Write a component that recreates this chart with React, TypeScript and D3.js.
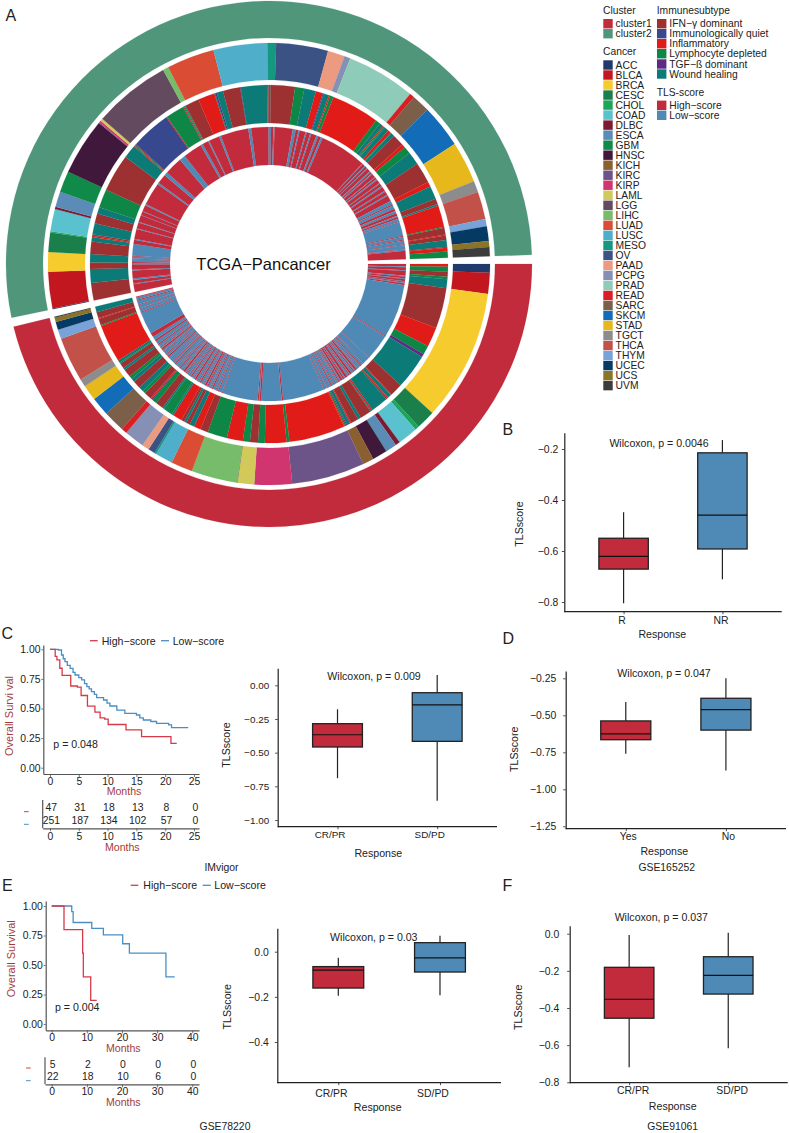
import React from 'react';
import * as d3 from 'd3';

const FONT = '"Liberation Sans", Arial, sans-serif';
const RED = '#c22b3b';
const BLUE = '#4f8ab7';
const INK = '#222';
const BROWN = '#a33c3c';

// ---- ring data ----
const clusterNames = ['cluster1', 'cluster2'];
const clusterColors = [RED, '#4f967b'];

const cancerNames = ['ACC', 'BLCA', 'BRCA', 'CESC', 'CHOL', 'COAD', 'DLBC', 'ESCA', 'GBM', 'HNSC', 'KICH', 'KIRC', 'KIRP', 'LAML', 'LGG', 'LIHC', 'LUAD', 'LUSC', 'MESO', 'OV', 'PAAD', 'PCPG', 'PRAD', 'READ', 'SARC', 'SKCM', 'STAD', 'TGCT', 'THCA', 'THYM', 'UCEC', 'UCS', 'UVM'];
const cancerColors = ['#1f3a6b', '#c2171f', '#f5cb2d', '#1b7f4b', '#1fa559', '#5ac1cf', '#7c1a30', '#5b8cb8', '#0f8a48', '#40183c', '#8b6030', '#6c5388', '#d03570', '#d1c95a', '#634a5f', '#77bc6a', '#db4c35', '#4fafca', '#169880', '#3b5285', '#ec9a80', '#8690b5', '#8ecbb8', '#d71f25', '#7c5f49', '#136cb8', '#e6b81c', '#8c8c8c', '#c2514a', '#78a3d8', '#043a63', '#8a7427', '#3c3c3c'];
// share of each cancer inside a cluster, same order as cancerNames
const cancerCluster1 = [2.3, 5.5, 34.6, 5, 1.1, 5.3, 1.2, 2.9, 0.1, 3.9, 2.9, 19.2, 9.9, 4.4, 0.1, 12.1, 5.7, 4.6, 0.5, 1.8, 1.9, 5.3, 0, 1.5, 5.7, 4.9, 4.1, 2.1, 11.7, 2.5, 2.1, 1.1, 0.3];
const cancerCluster2 = [0.2, 9.6, 5.2, 5.1, 0.3, 5.9, 0.6, 4.1, 5.6, 15.1, 0, 0.2, 0.5, 0.7, 20.4, 1.5, 12.6, 14.2, 2.3, 13.7, 4.5, 1.6, 18.2, 1.3, 4.8, 11.4, 10.9, 3, 7.3, 1.9, 3.9, 1.6, 2.4];

const immuneNames = ['IFN−γ dominant', 'Immunologically quiet', 'Inflammatory', 'Lymphocyte depleted', 'TGF−ß dominant', 'Wound healing'];
const immuneColors = ['#9d3030', '#37488e', '#e11b17', '#0e8645', '#5f2a82', '#0c7b78'];
const [IFN, IMQ, INF, LD, TGF, WH] = [0, 1, 2, 3, 4, 5];
const immuneCluster1Kinds = [INF, LD, IFN, LD, WH, IFN, INF, LD, TGF, WH, IFN, INF, WH, INF, IFN, WH, INF, WH, IFN, WH, IFN, INF, WH, TGF, LD, INF, INF, LD, INF, LD, IFN, LD, INF, LD, IFN, INF, WH, IFN, WH, IFN, INF, WH, LD, WH, IFN, LD, TGF, INF, IFN, LD, WH, IFN, WH, LD, IFN, WH, IFN, LD, WH, INF, LD, IFN, INF, IFN, WH];
const immuneCluster1Sizes = [0.9, 1.6, 1.6, 0.8, 2.9, 13.2, 6.4, 2.9, 1, 11.4, 4.1, 0.3, 1.2, 0.3, 0.5, 5.6, 0.5, 0.3, 3.7, 1, 2.5, 0.4, 1, 0.3, 0.5, 0.3, 18.3, 0.9, 7, 2.2, 2.6, 2.3, 5.2, 6.4, 2.5, 2.2, 1.6, 1.2, 0.8, 1, 3, 0.6, 3, 0.6, 2.5, 1.7, 0.3, 0.4, 2.4, 1, 1.6, 2.5, 1.2, 1, 2.6, 0.8, 1.6, 0.4, 0.9, 12.3, 0.4, 2, 0.3, 2, 1.8];
const immuneCluster2Kinds = [IFN, WH, IFN, INF, WH, IFN, WH, INF, IFN, WH, IFN, WH, LD, IFN, WH, INF, LD, IFN, IMQ, INF, LD, INF, WH, LD, IFN, INF, LD, TGF, WH, IFN, TGF, WH, INF, WH, IFN, LD, WH, INF, TGF, WH, INF, LD, INF, LD, WH, INF, LD, WH, INF, LD, WH, IFN, INF, LD, WH, IFN, INF, WH, IFN, WH, INF, LD, IFN, INF, IFN, WH, IFN, INF, LD];
const immuneCluster2Sizes = [5.7, 4.5, 1.6, 0.5, 2.7, 4, 1.5, 0.4, 0.5, 3.6, 3.2, 2.1, 6, 12.2, 4.4, 0.3, 0.3, 0.3, 13, 0.3, 6, 0.3, 0.3, 0.3, 4.6, 5.4, 0.3, 0.5, 2.1, 5.6, 0.2, 8.5, 0.5, 0.6, 7.9, 3, 3.8, 2.3, 0.3, 1.8, 0.4, 1.1, 15.6, 1.6, 1.2, 0.4, 0.4, 1.5, 1, 0.3, 1.2, 3.8, 1.2, 2.4, 4.2, 6.8, 1.6, 4.3, 1.8, 0.6, 7, 0.3, 2.2, 0.3, 1.5, 2.2, 0.3, 1.2, 2];

const tlsNames = ['High−score', 'Low−score'];
const tlsColors = [RED, BLUE];
// alternating runs: high, low, high, low ...
const tlsCluster1Runs = [1, 0.4, 1.2, 0.3, 2, 0.4, 0.8, 0.3, 0.8, 0.2, 0.4, 0.4, 0.7, 22.6, 0.4, 11, 0.2, 3, 0.3, 1.2, 0.5, 1, 0.3, 0.7, 0.8, 0.5, 0.5, 0.9, 0.8, 0.3, 0.4, 0.8, 1, 0.4, 0.6, 0.3, 0.9, 0.6, 0.5, 0.5, 0.3, 1.2, 0.4, 0.7, 0.5, 1.5, 0.3, 1.2, 0.3, 17.6, 0.6, 8.6, 0.7, 0.3, 0.5, 15, 0.3, 1.4, 0.4, 0.8, 0.3, 1.1, 0.6, 0.5, 0.3, 0.9, 0.5, 0.3, 0.8, 0.6, 0.3, 0.9, 0.6, 0.4, 0.4, 1, 0.7, 0.4, 0.3, 0.8, 0.5, 0.6, 0.4, 1.1, 0.4, 0.5, 0.8, 0.4, 0.3, 0.9, 0.5, 0.7, 0.3, 1.2, 0.5, 0.6, 0.4, 1.3, 0.3, 1, 0.6, 0.8, 0.4, 1.2, 0.3, 0.7, 0.7, 0.5, 0.3, 1.1, 0.5, 1.4, 0.8, 1.4, 1.8, 9.5, 0.4, 1.2, 0.3, 1.4, 0.3, 1.6, 0.5, 0.9, 0.4];
const tlsCluster2Runs = [3.3, 0.3, 1.4, 0.7, 3.3, 0.4, 2.2, 0.4, 0.5, 1.2, 0.3, 0.8, 0.3, 5, 1.7, 0.4, 4.2, 0.3, 2.5, 0.3, 2.8, 0.2, 1.5, 0.2, 2.6, 0.6, 9.6, 0.7, 4, 1.5, 7.5, 2.6, 7.9, 1, 2.5, 0.5, 4.5, 0.8, 11.7, 1.2, 7.3, 1, 1, 0.5, 7.6, 1.2, 1.2, 0.5, 2.5, 0.5, 1.5, 0.5, 2.2, 0.8, 1.2, 0.8, 19.6, 0.3, 1.1, 0.4, 0.9, 0.3, 1.5, 0.5, 0.7, 0.4, 1.5, 0.3, 0.8, 0.5, 1.6, 0.3, 1.2, 0.6, 1.8, 0.4, 1.5, 0.5, 2.5, 1.5, 0.5, 1.5, 1, 1, 1.2, 0.5, 0.8, 1, 0.3, 6, 0.4, 1.2, 0.4, 1.6, 0.3, 1.5, 0.3, 0.6, 3.5];

// ---- box plots: [low, q1, median, q3, high] ----
const boxB = [[-0.805, -0.671, -0.621, -0.55, -0.448], [-0.711, -0.592, -0.459, -0.215, -0.165]];
const boxC = [[-0.69, -0.458, -0.367, -0.285, -0.178], [-0.857, -0.416, -0.146, -0.055, 0.076]];
const boxD = [[-0.76, -0.665, -0.626, -0.538, -0.41], [-0.873, -0.6, -0.462, -0.385, -0.25]];
const boxE = [[-0.195, -0.161, -0.082, -0.066, -0.027], [-0.193, -0.09, -0.027, 0.04, 0.071]];
const boxF = [[-0.719, -0.455, -0.353, -0.181, -0.007], [-0.617, -0.325, -0.224, -0.124, 0.005]];

// ---- survival curves: [months, survival] ----
const kmCHigh = [[0, 1], [0.9, 0.94], [1.2, 0.91], [1.7, 0.84], [2.1, 0.78], [3.6, 0.69], [4.75, 0.68], [5.4, 0.61], [6.5, 0.52], [7.8, 0.47], [8.7, 0.42], [9.5, 0.41], [10.1, 0.365], [13.2, 0.32], [15.9, 0.262], [21, 0.206], [22, 0.206]];
const kmCLow = [[0, 1], [1.45, 0.994], [2, 0.952], [2.3, 0.92], [2.6, 0.896], [3, 0.865], [3.5, 0.839], [4, 0.805], [4.35, 0.783], [5, 0.76], [5.5, 0.741], [6, 0.71], [6.4, 0.685], [6.8, 0.665], [7.2, 0.642], [7.7, 0.62], [8.1, 0.592], [9.3, 0.572], [9.9, 0.545], [10.4, 0.521], [11.6, 0.487], [13, 0.459], [15, 0.445], [15.6, 0.42], [16.2, 0.403], [17.5, 0.39], [18.5, 0.375], [20.6, 0.361], [21.1, 0.338], [24, 0.338]];
const kmEHigh = [[0, 1], [3.5, 0.8], [8.8, 0.6], [9, 0.4], [11.1, 0.2], [12.8, 0.2]];
const kmELow = [[0, 1], [5.7, 0.952], [6.1, 0.86], [11.4, 0.81], [14.7, 0.755], [20.2, 0.68], [22.1, 0.6], [32.5, 0.4], [35, 0.4]];

const riskCMonths = [0, 5, 10, 15, 20, 25];
const riskCHigh = [47, 31, 18, 13, 8, 0];
const riskCLow = [251, 187, 134, 102, 57, 0];
const riskEMonths = [0, 10, 20, 30, 40];
const riskEHigh = [5, 2, 0, 0, 0];
const riskELow = [22, 18, 10, 6, 0];

const survivalTicks = [0, 0.25, 0.5, 0.75, 1];

const rad = (deg) => (deg * Math.PI) / 180;
const arcGen = d3.arc();

// turn a list of sizes into arcs between two angles
const Ring = ({ sizes, colorOf, start, end, inner, outer, cx, cy }) => {
  const angle = d3.scaleLinear().domain([0, d3.sum(sizes)]).range([start, end]);
  let total = 0;
  return (
    <g transform={`translate(${cx},${cy})`}>
      {sizes.map((size, i) => {
        const a0 = angle(total);
        total += size;
        const a1 = angle(total);
        if (size <= 0) return null;
        const color = colorOf(i);
        return (
          <path
            key={i}
            d={arcGen({ innerRadius: inner, outerRadius: outer, startAngle: rad(a0), endAngle: rad(a1) })}
            fill={color}
            stroke={color}
            strokeWidth={0.15}
          />
        );
      })}
    </g>
  );
};

const Label = ({ x, y, size = 10.6, color = INK, anchor = 'middle', rotate = false, children }) => (
  <text
    x={x}
    y={y}
    fontSize={size}
    fill={color}
    textAnchor={anchor}
    dominantBaseline="central"
    transform={rotate ? `rotate(-90 ${x} ${y})` : undefined}
  >
    {children}
  </text>
);

const Axis = ({ axis, transform, color = INK, fontSize = 10.4, width = 1.2, labelDx = 0, hideDomain = false }) => (
  <g
    transform={transform}
    ref={(el) => {
      if (!el) return;
      const g = d3.select(el);
      g.call(axis);
      g.attr('font-family', FONT).attr('font-size', fontSize);
      g.selectAll('.domain').attr('stroke', color).attr('stroke-width', width);
      if (hideDomain) g.selectAll('.domain').remove();
      g.selectAll('.tick line').attr('stroke', color).attr('stroke-width', 0.8);
      g.selectAll('.tick text').attr('fill', INK).attr('dx', labelDx);
    }}
  />
);

const BoxPanel = ({ data, cats, left, right, top, bottom, yCal, ticks, format, tickFont = 10.4, yPad = 3.5, labelDx, labelY, pX, pY, p, xLabelX, xLabelY, yLabelX, yLabelY }) => {
  const y0 = d3.scaleLinear().domain(yCal.values).range(yCal.pixels);
  const y = d3.scaleLinear().domain([y0.invert(top), y0.invert(bottom)]).range([top, bottom]);
  const x = d3.scalePoint().domain(cats).range([left, right]).padding(0.6);
  const boxWidth = x.step() / 2;
  const fills = [RED, BLUE];
  return (
    <g>
      {data.map((d, i) => {
        const cx = x(cats[i]);
        const [low, q1, med, q3, high] = d;
        return (
          <g key={cats[i]}>
            <line x1={cx} x2={cx} y1={y(high)} y2={y(q3)} stroke="#222" strokeWidth={1.2} />
            <line x1={cx} x2={cx} y1={y(q1)} y2={y(low)} stroke="#222" strokeWidth={1.2} />
            <rect x={cx - boxWidth / 2} y={y(q3)} width={boxWidth} height={y(q1) - y(q3)} fill={fills[i]} stroke="#222" strokeWidth={1.3} />
            <line x1={cx - boxWidth / 2} x2={cx + boxWidth / 2} y1={y(med)} y2={y(med)} stroke="#111" strokeWidth={1.2} />
          </g>
        );
      })}
      <Axis axis={d3.axisLeft(y).tickValues(ticks).tickFormat((v) => format(v).replace('-', '−')).tickSize(2.5).tickPadding(yPad).tickSizeOuter(0)} transform={`translate(${left},0)`} fontSize={tickFont} />
      <line x1={left} x2={right} y1={bottom} y2={bottom} stroke={INK} strokeWidth={1.2} />
      <Axis axis={d3.axisBottom(x).tickSize(2.5).tickPadding(labelY - bottom - 2.5).tickSizeOuter(0)} transform={`translate(0,${bottom})`} fontSize={tickFont} labelDx={labelDx} hideDomain />
      <Label x={pX} y={pY}>{p}</Label>
      <Label x={xLabelX} y={xLabelY}>Response</Label>
      <Label x={yLabelX} y={yLabelY} rotate>TLSscore</Label>
    </g>
  );
};

const KmPanel = ({ high, low, axisX, right, top, bottom, yCal, xCal, xTicks, yTitle, yTitleX, yTitleY, p, pX, pY, monthsX, monthsY, tickY, legend, risk }) => {
  const y0 = d3.scaleLinear().domain(yCal.values).range(yCal.pixels);
  const y = d3.scaleLinear().domain([y0.invert(top), y0.invert(bottom)]).range([top, bottom]);
  const x0 = d3.scaleLinear().domain(xCal.values).range(xCal.pixels);
  const x = d3.scaleLinear().domain([x0.invert(axisX), x0.invert(right)]).range([axisX, right]);
  const xRisk = d3.scaleLinear().domain([x0.invert(risk.axisX), x0.invert(right)]).range([risk.axisX, right]);
  const line = d3.line().x((d) => x(d[0])).y((d) => y(d[1])).curve(d3.curveStepAfter);
  const gray = '#555';
  // d3 puts the text top at the padding: centre = tick + padding + half the digit height
  const padFor = (center, base) => center - base - 3 - 3.7;
  return (
    <g>
      <path d={line(low)} fill="none" stroke="#4a8fc4" strokeWidth={1.3} />
      <path d={line(high)} fill="none" stroke="#d63a48" strokeWidth={1.3} />
      <Axis axis={d3.axisLeft(y).tickValues(survivalTicks).tickFormat(d3.format('.2f')).tickSize(2).tickPadding(0.8).tickSizeOuter(0)} transform={`translate(${axisX},0)`} color={gray} fontSize={10.4} />
      <Axis axis={d3.axisBottom(x).tickValues(xTicks).tickSize(3).tickPadding(padFor(tickY, bottom)).tickSizeOuter(0)} transform={`translate(0,${bottom})`} color={gray} fontSize={10.4} />
      <Label x={yTitleX} y={yTitleY} size={11} color={BROWN} rotate>{yTitle}</Label>
      <Label x={monthsX} y={monthsY} size={10.6} color={BROWN}>Months</Label>
      <Label x={pX} y={pY} anchor="start" size={10.6}>{p}</Label>

      <line x1={legend.highLine[0]} x2={legend.highLine[1]} y1={legend.y} y2={legend.y} stroke="#d63a48" strokeWidth={1.3} />
      <Label x={legend.highText} y={legend.y} anchor="start" size={10.6}>{tlsNames[0]}</Label>
      <line x1={legend.lowLine[0]} x2={legend.lowLine[1]} y1={legend.y} y2={legend.y} stroke="#4a8fc4" strokeWidth={1.3} />
      <Label x={legend.lowText} y={legend.y} anchor="start" size={10.6}>{tlsNames[1]}</Label>

      {/* risk table */}
      <line x1={risk.axisX} x2={risk.axisX} y1={risk.top} y2={risk.bottom} stroke={gray} strokeWidth={1.2} />
      <Axis axis={d3.axisBottom(xRisk).tickValues(risk.months).tickSize(3).tickPadding(padFor(risk.tickY, risk.bottom)).tickSizeOuter(0)} transform={`translate(0,${risk.bottom})`} color={gray} fontSize={10.4} />
      {risk.months.map((m, i) => (
        <g key={m}>
          <Label x={x(m) + risk.shift} y={risk.rowHigh} size={10.4}>{risk.high[i]}</Label>
          <Label x={x(m) + risk.shift} y={risk.rowLow} size={10.4}>{risk.low[i]}</Label>
        </g>
      ))}
      <line x1={risk.dashX} x2={risk.dashX + 4.7} y1={risk.rowHigh + 4} y2={risk.rowHigh + 4} stroke="#d63a48" strokeWidth={1} />
      <line x1={risk.dashX} x2={risk.dashX + 4.7} y1={risk.rowLow + 4} y2={risk.rowLow + 4} stroke="#4a8fc4" strokeWidth={1} />
      <Label x={risk.monthsX} y={risk.monthsY} size={10.6} color={BROWN}>Months</Label>
    </g>
  );
};

const LegendBlock = ({ title, names, colors, x, titleY, rowY }) => (
  <g>
    <Label x={x} y={titleY} anchor="start" size={10.3}>{title}</Label>
    {names.map((name, i) => (
      <g key={name}>
        <rect x={x + 0.3} y={rowY[i] - 4.7} width={9.4} height={9.4} fill={colors[i]} />
        <Label x={x + 12.6} y={rowY[i]} anchor="start" size={10.3}>{name}</Label>
      </g>
    ))}
  </g>
);

export default function App() {
  const cx = 269;
  const cy = 264;
  const ring = { cx, cy };
  const sector1 = { start: 90, end: 256.2 };
  const sector2 = { start: 258.2, end: 448 };
  const sectors = [sector1, sector2];
  const cancerRows = cancerNames.map((_, i) => 65 + i * 10.02);

  return (
    <svg
      width={789}
      height={1133}
      viewBox="0 0 789 1133"
      fontFamily={FONT}
      style={{ position: 'absolute', left: 0, top: 0, display: 'block', background: '#fff' }}
    >
      {/* A: circular heat map */}
      {sectors.map((s, i) => (
        <Ring key={i} {...ring} {...s} sizes={[1]} colorOf={() => clusterColors[i]} inner={226} outer={263} />
      ))}
      <Ring {...ring} {...sector1} sizes={cancerCluster1} colorOf={(i) => cancerColors[i]} inner={184} outer={221} />
      <Ring {...ring} {...sector2} sizes={cancerCluster2} colorOf={(i) => cancerColors[i]} inner={184} outer={221} />
      <Ring {...ring} {...sector1} sizes={immuneCluster1Sizes} colorOf={(i) => immuneColors[immuneCluster1Kinds[i]]} inner={141} outer={179} />
      <Ring {...ring} {...sector2} sizes={immuneCluster2Sizes} colorOf={(i) => immuneColors[immuneCluster2Kinds[i]]} inner={141} outer={179} />
      <Ring {...ring} {...sector1} sizes={tlsCluster1Runs} colorOf={(i) => tlsColors[i % 2]} inner={99} outer={137} />
      <Ring {...ring} {...sector2} sizes={tlsCluster2Runs} colorOf={(i) => tlsColors[i % 2]} inner={99} outer={137} />
      <Label x={263.5} y={264} size={16.5} color="#111">TCGA−Pancancer</Label>

      <LegendBlock title="Cluster" names={clusterNames} colors={clusterColors} x={603} titleY={10.5} rowY={[23.7, 33.7]} />
      <LegendBlock title="Cancer" names={cancerNames} colors={cancerColors} x={603} titleY={51.7} rowY={cancerRows} />
      <LegendBlock title="Immunesubtype" names={immuneNames} colors={immuneColors} x={656.7} titleY={10.5} rowY={[23.7, 33.7, 43.7, 53.7, 64, 74]} />
      <LegendBlock title="TLS-score" names={tlsNames} colors={tlsColors} x={656.7} titleY={92} rowY={[105.3, 115.3]} />

      {/* panel letters */}
      <text x={5.5} y={21} fontSize={16} fill={INK}>A</text>
      <text x={502.5} y={435} fontSize={16} fill={INK}>B</text>
      <text x={1.5} y={639} fontSize={16} fill={INK}>C</text>
      <text x={502.5} y={644} fontSize={16} fill={INK}>D</text>
      <text x={2} y={891} fontSize={16} fill={INK}>E</text>
      <text x={502.5} y={891} fontSize={16} fill={INK}>F</text>

      {/* B */}
      <BoxPanel data={boxB} cats={['R', 'NR']} left={564.3} right={781.7} top={432.7} bottom={611.7}
        yCal={{ values: [-0.2, -0.8], pixels: [449, 602] }} ticks={[-0.2, -0.4, -0.6, -0.8]} format={d3.format('.1f')}
        labelDx={-2} labelY={616.5} pX={659} pY={443} p="Wilcoxon, p = 0.0046"
        xLabelX={662.3} xLabelY={634} yLabelX={519} yLabelY={524} />

      {/* C */}
      <KmPanel high={kmCHigh} low={kmCLow} axisX={43.3} right={199} top={645} bottom={774}
        yCal={{ values: [1, 0], pixels: [649.3, 767.7] }} xCal={{ values: [0, 25], pixels: [50, 194] }} xTicks={riskCMonths}
        yTitle="Overall Survi val" yTitleX={8.5} yTitleY={716} p="p = 0.048" pX={53.3} pY={744.3}
        monthsX={124} monthsY={790.7} tickY={781}
        legend={{ y: 640.7, highLine: [90, 97.7], highText: 101.7, lowLine: [161, 169], lowText: 172.7 }}
        risk={{ axisX: 42.7, top: 800, bottom: 828.3, months: riskCMonths, high: riskCHigh, low: riskCLow, rowHigh: 807.7, rowLow: 820.3, shift: 1.3, tickY: 836, dashX: 24, monthsX: 122.3, monthsY: 846.7 }} />
      <BoxPanel data={boxC} cats={['CR/PR', 'SD/PD']} left={277.7} right={497} top={668.3} bottom={826.7}
        yCal={{ values: [0, -1], pixels: [685.3, 820] }} ticks={[0, -0.25, -0.5, -0.75, -1]} format={d3.format('.2f')} tickFont={9.9} yPad={6}
        labelDx={-8} labelY={831} pX={374} pY={676} p="Wilcoxon, p = 0.009"
        xLabelX={378.3} xLabelY={853} yLabelX={226} yLabelY={745} />
      <Label x={221.5} y={867.7} size={10.4}>IMvigor</Label>

      {/* D */}
      <BoxPanel data={boxD} cats={['Yes', 'No']} left={565.7} right={786} top={671} bottom={828.7}
        yCal={{ values: [-0.25, -1.25], pixels: [678.3, 826.3] }} ticks={[-0.25, -0.5, -0.75, -1, -1.25]} format={d3.format('.2f')} yPad={7}
        labelDx={2} labelY={833} pX={664} pY={672.7} p="Wilcoxon, p = 0.047"
        xLabelX={664.3} xLabelY={851.3} yLabelX={514.3} yLabelY={749.3} />
      <Label x={666.7} y={867.3} size={10.4}>GSE165252</Label>

      {/* E */}
      <KmPanel high={kmEHigh} low={kmELow} axisX={45.7} right={199} top={901} bottom={1030.3}
        yCal={{ values: [1, 0], pixels: [906, 1024] }} xCal={{ values: [0, 40], pixels: [51.7, 192.3] }} xTicks={riskEMonths}
        yTitle="Overall Survival" yTitleX={11} yTitleY={958.7} p="p = 0.004" pX={55} pY={1007.3}
        monthsX={123.3} monthsY={1048} tickY={1037.4}
        legend={{ y: 885.3, highLine: [130.7, 138.3], highText: 143.3, lowLine: [202.7, 210.7], lowText: 214.3 }}
        risk={{ axisX: 45, top: 1057.3, bottom: 1084.3, months: riskEMonths, high: riskEHigh, low: riskELow, rowHigh: 1064, rowLow: 1076.7, shift: 1, tickY: 1091.7, dashX: 26, monthsX: 123.3, monthsY: 1102.3 }} />
      <BoxPanel data={boxE} cats={['CR/PR', 'SD/PD']} left={277.3} right={501} top={928.3} bottom={1082.7}
        yCal={{ values: [0, -0.4], pixels: [951.7, 1042] }} ticks={[0, -0.2, -0.4]} format={d3.format('.1f')} yPad={6}
        labelDx={-7.5} labelY={1089.6} pX={373.8} pY={936.7} p="Wilcoxon, p = 0.03"
        xLabelX={377.7} xLabelY={1106.7} yLabelX={226.7} yLabelY={1006.7} />
      <Label x={225} y={1126.7} size={10.4}>GSE78220</Label>

      {/* F */}
      <BoxPanel data={boxF} cats={['CR/PR', 'SD/PD']} left={569.7} right={787.7} top={925.7} bottom={1082.7}
        yCal={{ values: [0, -0.8], pixels: [933.7, 1082.3] }} ticks={[0, -0.2, -0.4, -0.6, -0.8]} format={d3.format('.1f')} yPad={8}
        labelDx={3.5} labelY={1087} pX={661.3} pY={917.3} p="Wilcoxon, p = 0.037"
        xLabelX={672.7} xLabelY={1106.3} yLabelX={517.7} yLabelY={1007.3} />
      <Label x={672.7} y={1126.7} size={10.4}>GSE91061</Label>
    </svg>
  );
}
